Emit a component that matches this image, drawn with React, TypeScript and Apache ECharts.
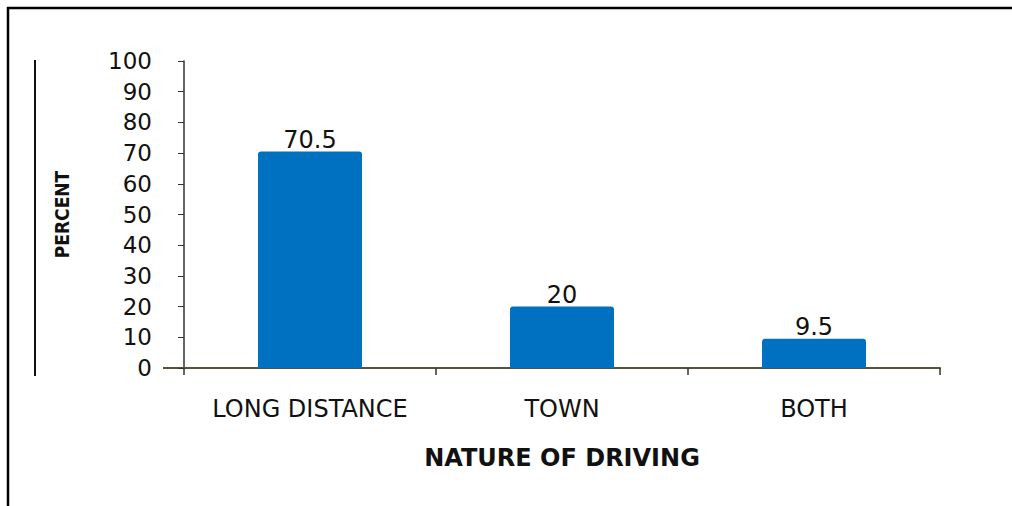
import React, { useEffect, useRef } from "react";
import * as echarts from "echarts";

// Share of drivers by nature of driving (percent)
const categories = ["LONG DISTANCE", "TOWN", "BOTH"];
const percents = [70.5, 20, 9.5];
const yTicks = { min: 0, max: 100, interval: 10 };
const xTitle = "NATURE OF DRIVING";
const yTitle = "PERCENT";

const FONT = "'DejaVu Sans', Verdana, sans-serif";

export default function App() {
  const ref = useRef<HTMLDivElement>(null);

  useEffect(() => {
    if (!ref.current) return;
    const chart = echarts.init(ref.current, undefined, { renderer: "svg" });
    chart.setOption({
      animation: false,
      backgroundColor: "#ffffff",
      grid: { left: 184, right: 72, top: 61, bottom: 138, containLabel: false },
      xAxis: {
        type: "category",
        data: categories,
        boundaryGap: true,
        name: xTitle,
        nameLocation: "middle",
        nameGap: 78,
        nameTextStyle: { fontFamily: FONT, fontWeight: "bold", fontSize: 24, color: "#111" },
        axisLine: { show: true, lineStyle: { color: "#5a5236", width: 2 } },
        axisTick: { show: true, interval: 0, length: 7, lineStyle: { color: "#333", width: 1.5 } },
        axisLabel: {
          interval: 0,
          hideOverlap: false,
          margin: 29,
          fontFamily: FONT,
          fontSize: 24,
          color: "#111",
        },
        splitLine: { show: false },
      },
      yAxis: {
        type: "value",
        min: yTicks.min,
        max: yTicks.max,
        interval: yTicks.interval,
        name: yTitle,
        nameLocation: "middle",
        nameRotate: 90,
        nameGap: 113,
        nameTextStyle: {
          fontFamily: "'DejaVu Sans Condensed', 'Liberation Sans Narrow', sans-serif",
          fontWeight: "bold",
          fontSize: 19,
          color: "#111",
        },
        axisLine: { show: true, lineStyle: { color: "#333", width: 1.5 } },
        axisTick: { show: true, length: 6, lineStyle: { color: "#333" } },
        axisLabel: { margin: 32, fontFamily: FONT, fontSize: 23, color: "#111" },
        splitLine: { show: false },
      },
      series: [
        {
          type: "bar",
          data: percents,
          barWidth: 104,
          itemStyle: { color: "#0070c0", borderRadius: [3, 3, 0, 0] },
          label: {
            show: true,
            position: "top",
            distance: 0,
            fontFamily: FONT,
            fontSize: 24,
            color: "#111",
          },
        },
      ],
      graphic: [
        // page frame: top and left edges
        { type: "line", shape: { x1: 7, y1: 8, x2: 1012, y2: 8 }, style: { stroke: "#000", lineWidth: 2.5 } },
        { type: "line", shape: { x1: 8, y1: 7, x2: 8, y2: 506 }, style: { stroke: "#000", lineWidth: 2.5 } },
        // rule beside the value axis title
        { type: "line", shape: { x1: 35, y1: 60, x2: 35, y2: 376 }, style: { stroke: "#111", lineWidth: 2 } },
        // baseline stub left of the value axis
        { type: "line", shape: { x1: 163, y1: 368, x2: 184, y2: 368 }, style: { stroke: "#5a5236", lineWidth: 2 } },
      ],
    });
    return () => chart.dispose();
  }, []);

  return (
    <div
      ref={ref}
      style={{ position: "fixed", left: 0, top: 0, width: 1012, height: 506, background: "#fff" }}
    />
  );
}
